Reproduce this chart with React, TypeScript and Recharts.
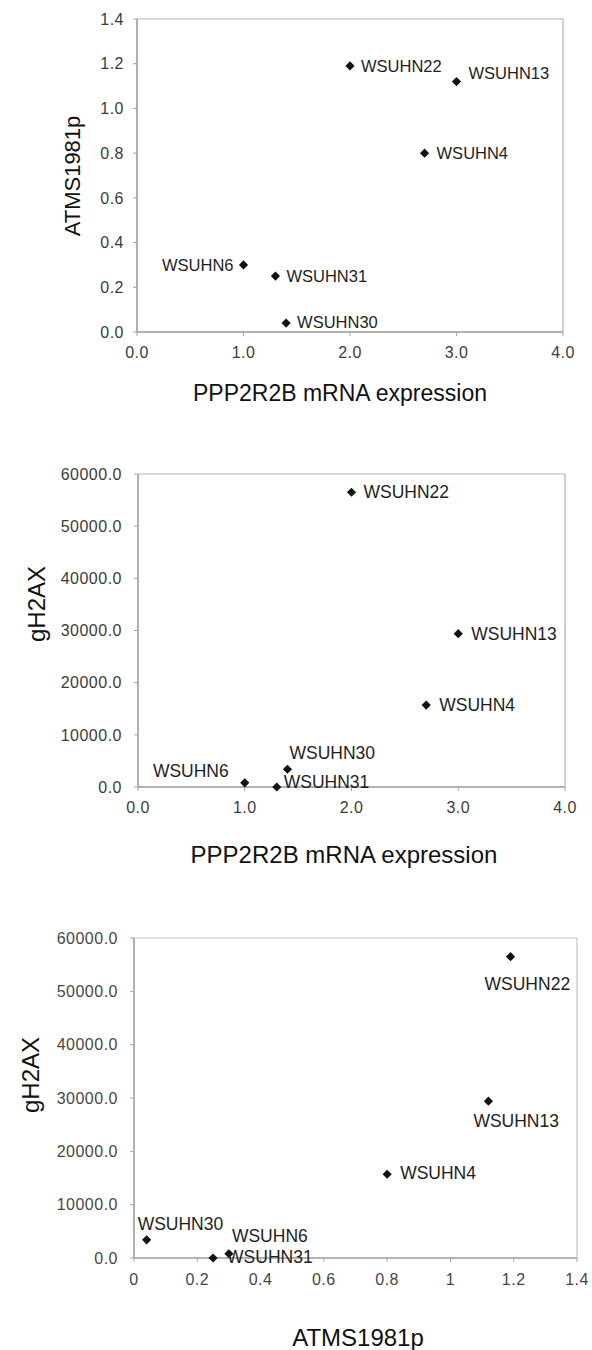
import React from 'react'
import { ScatterChart, Scatter, XAxis, YAxis, ReferenceArea } from 'recharts'

// cell lines, in the same order in every list
const samples = ['WSUHN6', 'WSUHN31', 'WSUHN30', 'WSUHN22', 'WSUHN4', 'WSUHN13']
const ppp2r2b = [1.0, 1.3, 1.4, 2.0, 2.7, 3.0]
const atms1981p = [0.3, 0.25, 0.04, 1.19, 0.8, 1.12]
const gh2ax = [800, 0, 3400, 56500, 15700, 29400]

const exprTicks = [0, 1, 2, 3, 4]
const atmTicks = [0, 0.2, 0.4, 0.6, 0.8, 1, 1.2, 1.4]
const gh2axTicks = [0, 10000, 20000, 30000, 40000, 50000, 60000]

const FONT = '"Liberation Sans", Arial, Helvetica, sans-serif'
const AXIS = '#a3a3a3'

type Offset = { dx: number; dy: number; anchor?: 'start' | 'end' }

// label placement next to each marker, per panel
const offsets1: Record<string, Offset> = {
  WSUHN6: { dx: -10, dy: 0, anchor: 'end' },
  WSUHN31: { dx: 11, dy: 0 },
  WSUHN30: { dx: 11, dy: -1 },
  WSUHN22: { dx: 11, dy: 0 },
  WSUHN4: { dx: 12, dy: 0 },
  WSUHN13: { dx: 12, dy: -9 },
}
const offsets2: Record<string, Offset> = {
  WSUHN6: { dx: -16, dy: -12, anchor: 'end' },
  WSUHN31: { dx: 7, dy: -5 },
  WSUHN30: { dx: 2, dy: -16 },
  WSUHN22: { dx: 12, dy: 0 },
  WSUHN4: { dx: 13, dy: 0 },
  WSUHN13: { dx: 13, dy: 0 },
}
const offsets3: Record<string, Offset> = {
  WSUHN6: { dx: 3, dy: -18 },
  WSUHN31: { dx: 14, dy: -1 },
  WSUHN30: { dx: -9, dy: -16 },
  WSUHN22: { dx: -26, dy: 27 },
  WSUHN4: { dx: 13, dy: -1 },
  WSUHN13: { dx: -15, dy: 20 },
}

const pts = (xs: number[], ys: number[]) =>
  samples.map((name, i) => ({ name, x: xs[i], y: ys[i] }))

function makeShape(offsets: Record<string, Offset>, size: number) {
  return (p: any) => {
    const { cx, cy, payload } = p
    const o = offsets[payload.name]
    const r = 4.6
    return (
      <g>
        <polygon
          points={`${cx},${cy - r} ${cx + r},${cy} ${cx},${cy + r} ${cx - r},${cy}`}
          fill="#111"
        />
        <text
          x={cx + o.dx}
          y={cy + o.dy}
          textAnchor={o.anchor || 'start'}
          dominantBaseline="central"
          fontSize={size}
          fontFamily={FONT}
          fill="#1e1e1e"
        >
          {payload.name}
        </text>
      </g>
    )
  }
}

function AxisTitle(props: any) {
  const { tx, ty, text, size, rotate } = props
  return (
    <text
      x={tx}
      y={ty}
      textAnchor="middle"
      dominantBaseline="central"
      fontSize={size}
      fontFamily={FONT}
      fill="#111"
      transform={rotate ? `rotate(-90 ${tx} ${ty})` : undefined}
    >
      {text}
    </text>
  )
}

type PanelProps = {
  top: number
  height: number
  margin: { top: number; right: number; bottom: number; left: number }
  data: { name: string; x: number; y: number }[]
  xDomain: [number, number]
  yDomain: [number, number]
  xTicks: number[]
  yTicks: number[]
  xFmt: (v: number) => string
  yFmt: (v: number) => string
  xTitle: { tx: number; ty: number; text: string; size: number }
  yTitle: { tx: number; ty: number; text: string; size: number }
  yTickMargin: number
  xTickMargin: number
  offsets: Record<string, Offset>
  labelSize: number
  tickColor: string
  border: string
}

function Panel(p: PanelProps) {
  const tickStyle = { fontSize: 16, letterSpacing: 0.5, fontFamily: FONT, fill: p.tickColor }
  return (
    <div style={{ position: 'absolute', left: 0, top: p.top }}>
      <ScatterChart width={592} height={p.height} margin={p.margin}>
        <XAxis
          type="number"
          dataKey="x"
          domain={p.xDomain}
          ticks={p.xTicks}
          tickFormatter={p.xFmt}
          height={40}
          tickSize={4}
          tickMargin={p.xTickMargin}
          stroke={AXIS}
          tick={tickStyle}
          tickLine={{ stroke: AXIS }}
          axisLine={{ stroke: AXIS, strokeWidth: 1.5 }}
          label={<AxisTitle {...p.xTitle} />}
        />
        <YAxis
          type="number"
          dataKey="y"
          domain={p.yDomain}
          ticks={p.yTicks}
          tickFormatter={p.yFmt}
          width={60}
          tickSize={4}
          tickMargin={p.yTickMargin}
          stroke={AXIS}
          tick={tickStyle}
          tickLine={{ stroke: AXIS }}
          axisLine={{ stroke: AXIS, strokeWidth: 1.5 }}
          label={<AxisTitle {...p.yTitle} rotate />}
        />
        <ReferenceArea
          x1={p.xDomain[0]}
          x2={p.xDomain[1]}
          y1={p.yDomain[0]}
          y2={p.yDomain[1]}
          fill="none"
          fillOpacity={0}
          stroke={p.border}
          strokeWidth={1.2}
        />
        <Scatter
          data={p.data}
          isAnimationActive={false}
          shape={makeShape(p.offsets, p.labelSize)}
        />
      </ScatterChart>
    </div>
  )
}

const fix1 = (v: number) => v.toFixed(1)
const plain = (v: number) => String(v)

export default function App() {
  return (
    <div
      style={{
        position: 'absolute',
        left: 0,
        top: 0,
        width: 592,
        height: 1350,
        background: '#fff',
      }}
    >
      <Panel
        top={0}
        height={450}
        margin={{ top: 19, right: 29, bottom: 78, left: 77 }}
        data={pts(ppp2r2b, atms1981p)}
        xDomain={[0, 4]}
        yDomain={[0, 1.4]}
        xTicks={exprTicks}
        yTicks={atmTicks}
        xFmt={fix1}
        yFmt={fix1}
        xTitle={{ tx: 340, ty: 393, text: 'PPP2R2B mRNA expression', size: 23 }}
        yTitle={{ tx: 72, ty: 176, text: 'ATMS1981p', size: 22 }}
        yTickMargin={9}
        xTickMargin={11}
        offsets={offsets1}
        labelSize={16.5}
        tickColor="#3c3c3c"
        border="#b4b4b4"
      />
      <Panel
        top={450}
        height={430}
        margin={{ top: 24, right: 27, bottom: 53, left: 78 }}
        data={pts(ppp2r2b, gh2ax)}
        xDomain={[0, 4]}
        yDomain={[0, 60000]}
        xTicks={exprTicks}
        yTicks={gh2axTicks}
        xFmt={fix1}
        yFmt={fix1}
        xTitle={{ tx: 344, ty: 404, text: 'PPP2R2B mRNA expression', size: 24 }}
        yTitle={{ tx: 36, ty: 154, text: 'gH2AX', size: 24 }}
        yTickMargin={12}
        xTickMargin={11}
        offsets={offsets2}
        labelSize={17.5}
        tickColor="#3c3c3c"
        border="#b4b4b4"
      />
      <Panel
        top={880}
        height={470}
        margin={{ top: 58, right: 15, bottom: 52, left: 74 }}
        data={pts(atms1981p, gh2ax)}
        xDomain={[0, 1.4]}
        yDomain={[0, 60000]}
        xTicks={atmTicks}
        yTicks={gh2axTicks}
        xFmt={plain}
        yFmt={fix1}
        xTitle={{ tx: 358, ty: 457, text: 'ATMS1981p', size: 24 }}
        yTitle={{ tx: 30, ty: 195, text: 'gH2AX', size: 24 }}
        yTickMargin={12}
        xTickMargin={12}
        offsets={offsets3}
        labelSize={17.5}
        tickColor="#474747"
        border="#c4c4c4"
      />
    </div>
  )
}
